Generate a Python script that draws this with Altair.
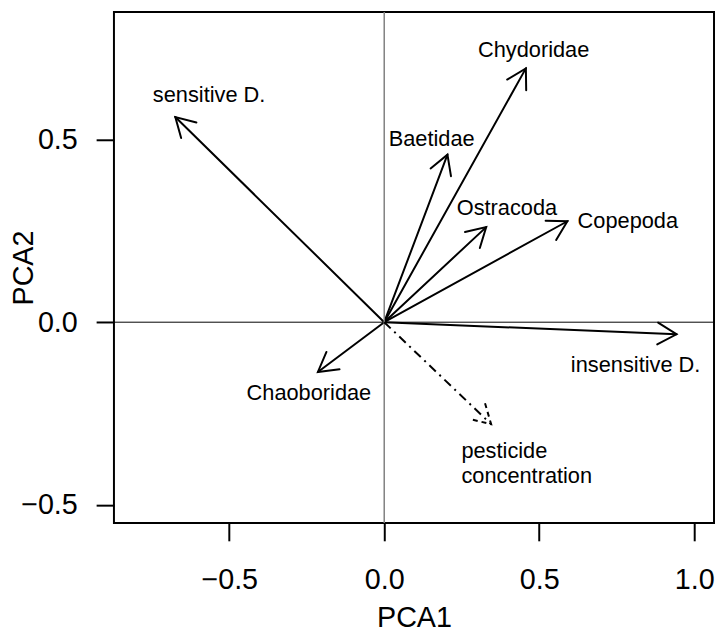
import math
import altair as alt
import pandas as pd

# ---- data ----
species = ["sensitive D.", "Chydoridae", "Baetidae", "Ostracoda", "Copepoda",
           "insensitive D.", "Chaoboridae"]
species_pca1 = [-0.674, 0.457, 0.204, 0.329, 0.591, 0.943, -0.214]
species_pca2 = [0.561, 0.694, 0.458, 0.260, 0.276, -0.033, -0.136]
label_pca1 = [-0.565, 0.482, 0.153, 0.396, 0.786, 0.811, -0.243]
label_pca2 = [0.621, 0.745, 0.501, 0.312, 0.276, -0.117, -0.195]

env_name = ["pesticide\nconcentration"]
env_pca1 = [0.345]
env_pca2 = [-0.279]
env_label_pca1 = [0.249]
env_label_pca2 = [-0.371]

x_ticks = [-0.5, 0.0, 0.5, 1.0]
y_ticks = [-0.5, 0.0, 0.5]
x_domain = [-0.872, 1.064]
y_domain = [-0.549, 0.848]

W, H = 606, 516
FONT = "Liberation Sans"
TICK_FS = 29

sx = W / (x_domain[1] - x_domain[0])
sy = H / (y_domain[1] - y_domain[0])


def head_angle(dx, dy):
    return math.degrees(math.atan2(-dy * sy, dx * sx)) % 360


sp = pd.DataFrame({
    "name": species,
    "pca1": species_pca1,
    "pca2": species_pca2,
    "lx": label_pca1,
    "ly": label_pca2,
})
sp["x0"] = 0.0
sp["y0"] = 0.0
sp["angle"] = [head_angle(a, b) for a, b in zip(species_pca1, species_pca2)]

ev = pd.DataFrame({
    "name": env_name,
    "pca1": env_pca1,
    "pca2": env_pca2,
    "lx": env_label_pca1,
    "ly": env_label_pca2,
})
ev["x0"] = 0.0
ev["y0"] = 0.0
ev["angle"] = [head_angle(a, b) for a, b in zip(env_pca1, env_pca2)]

zero = pd.DataFrame({"v": [0.0]})

xscale = alt.Scale(domain=x_domain, nice=False, zero=False)
yscale = alt.Scale(domain=y_domain, nice=False, zero=False)

xaxis = alt.Axis(values=x_ticks, format=".1f", title="PCA1", grid=False,
                 domain=False, tickSize=18, tickWidth=2, tickColor="black",
                 labelFontSize=TICK_FS, labelFont=FONT, labelColor="black",
                 labelBaseline="alphabetic", labelPadding=48,
                 labelFlush=False, labelOverlap=False, labelBound=False,
                 titleFontSize=TICK_FS, titleFont=FONT, titleFontWeight="normal",
                 titleColor="black", titleY=105, titleBaseline="alphabetic")
yaxis = alt.Axis(values=y_ticks, format=".1f", title="PCA2", grid=False,
                 domain=False, tickSize=18, tickWidth=2, tickColor="black",
                 labelFontSize=TICK_FS, labelFont=FONT, labelColor="black",
                 labelAngle=0, labelAlign="right", labelBaseline="middle",
                 labelPadding=19, labelFlush=False, labelOverlap=False,
                 labelBound=False,
                 titleFontSize=TICK_FS, titleFont=FONT, titleFontWeight="normal",
                 titleColor="black", titleAngle=270, titleX=-82, titleY=H / 2,
                 titleAlign="center", titleBaseline="alphabetic")

HEAD = "M -0.866 -0.5 L 0 0 L -0.866 0.5"
HEAD_SIZE = 44 * 44
DASH = [9, 5, 2, 5]


def X(field):
    return alt.X(field, scale=xscale, axis=xaxis)


def Y(field):
    return alt.Y(field, scale=yscale, axis=yaxis)


hline = alt.Chart(zero).mark_rule(color="black", strokeWidth=1).encode(
    y=Y("v:Q"))
vline = alt.Chart(zero).mark_rule(color="#808080", strokeWidth=1.5).encode(
    x=X("v:Q"))

shafts = alt.Chart(sp).mark_rule(color="black", strokeWidth=2,
                                 strokeCap="round").encode(
    x=X("x0:Q"), y=Y("y0:Q"), x2="pca1:Q", y2="pca2:Q")
heads = alt.Chart(sp).mark_point(shape=HEAD, filled=False, size=HEAD_SIZE,
                                 strokeWidth=2, color="black", opacity=1,
                                 strokeCap="round").encode(
    x=X("pca1:Q"), y=Y("pca2:Q"),
    angle=alt.Angle("angle:Q", scale=None))
labels = alt.Chart(sp).mark_text(font=FONT, fontSize=22, color="black",
                                 align="center", baseline="middle").encode(
    x=X("lx:Q"), y=Y("ly:Q"), text="name:N")

env_shaft = alt.Chart(ev).mark_rule(color="black", strokeWidth=2,
                                    strokeDash=DASH).encode(
    x=X("x0:Q"), y=Y("y0:Q"), x2="pca1:Q", y2="pca2:Q")
env_head = alt.Chart(ev).mark_point(shape=HEAD, filled=False, size=HEAD_SIZE,
                                    strokeWidth=2, color="black", opacity=1,
                                    strokeDash=[5, 4]).encode(
    x=X("pca1:Q"), y=Y("pca2:Q"),
    angle=alt.Angle("angle:Q", scale=None))
env_label = alt.Chart(ev).mark_text(font=FONT, fontSize=22, color="black",
                                    align="left", baseline="alphabetic",
                                    lineBreak="\n", lineHeight=25).encode(
    x=X("lx:Q"), y=Y("ly:Q"), text="name:N")

chart = alt.layer(
    shafts, hline, vline, heads, labels, env_shaft, env_head, env_label
).properties(
    width=W, height=H,
    autosize=alt.AutoSizeParams(type="none"),
    padding={"left": 107, "top": 1, "right": 1, "bottom": 107},
    background="white",
).configure_view(
    stroke="black", strokeWidth=2
)

chart.save("out.html", embed_options={"renderer": "svg", "actions": False})
